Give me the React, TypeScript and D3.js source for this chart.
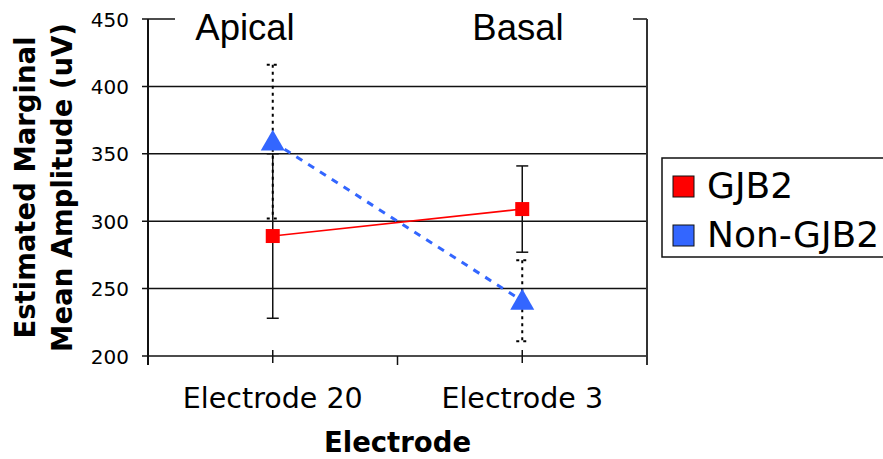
import React from "react";
import * as d3 from "d3";

const categories = ["Electrode 20", "Electrode 3"];
const regionLabels = ["Apical", "Basal"];
const seriesNames = ["GJB2", "Non-GJB2"];
const gjb2Means = [289, 309];
const gjb2Errors = [61, 32];
const nonGjb2Means = [359, 241];
const nonGjb2Errors = [57, 30];
const yTicks = [200, 250, 300, 350, 400, 450];

const W = 883;
const H = 459;
const plot = { left: 148, right: 647, top: 19, bottom: 356 };
const FONT = "'DejaVu Sans', Verdana, sans-serif";

export default function App() {
  const x = d3
    .scalePoint<string>()
    .domain(categories)
    .range([plot.left, plot.right])
    .padding(0.5);
  const y = d3.scaleLinear().domain([200, 450]).range([plot.bottom, plot.top]);
  const step = x.step();
  const boundaries = d3.range(categories.length + 1).map((i) => plot.left + i * step);

  const line = d3
    .line<number>()
    .x((_, i) => x(categories[i]) as number)
    .y((d) => y(d));

  const tri = d3.symbol(d3.symbolTriangle, 250)();
  const capW = 6;

  return (
    <svg
      width={W}
      height={H}
      style={{ position: "absolute", left: 0, top: 0 }}
      fontFamily={FONT}
    >
      <rect width={W} height={H} fill="#fff" />

      {/* horizontal gridlines */}
      {yTicks.map((t) => (
        <line
          key={t}
          x1={plot.left - 6}
          x2={plot.right}
          y1={y(t)}
          y2={y(t)}
          stroke="#111"
          strokeWidth={1.5}
        />
      ))}

      {/* white text box over the top gridline */}
      <rect x={175} y={4} width={458} height={42} fill="#fff" />
      {regionLabels.map((r, i) => (
        <text
          key={r}
          x={[245, 518][i]}
          y={40}
          textAnchor="middle"
          fontFamily="'Liberation Sans', Arial, sans-serif"
          fontSize={36.5}
          fill="#000"
        >
          {r}
        </text>
      ))}

      {/* axes frame */}
      <line x1={plot.left} x2={plot.left} y1={plot.top} y2={plot.bottom + 9} stroke="#111" strokeWidth={2} />
      <line x1={plot.right} x2={plot.right} y1={plot.top} y2={plot.bottom + 9} stroke="#333" strokeWidth={2} />
      {boundaries.slice(1, -1).map((b) => (
        <line key={b} x1={b} x2={b} y1={plot.bottom} y2={plot.bottom + 9} stroke="#111" strokeWidth={1.5} />
      ))}
      {categories.map((c) => (
        <line
          key={c}
          x1={x(c)}
          x2={x(c)}
          y1={plot.bottom - 6}
          y2={plot.bottom + 7}
          stroke="#111"
          strokeWidth={1.5}
        />
      ))}

      {/* y tick labels */}
      {yTicks.map((t) => (
        <text key={t} x={129} y={y(t) + 7.5} textAnchor="end" fontSize={20} fill="#000">
          {t}
        </text>
      ))}

      {/* category labels */}
      {categories.map((c) => (
        <text key={c} x={x(c)} y={408} textAnchor="middle" fontSize={28.5} fill="#000">
          {c}
        </text>
      ))}
      <text x={(plot.left + plot.right) / 2} y={452} textAnchor="middle" fontSize={27.5} fontWeight="bold">
        Electrode
      </text>
      <text
        transform={`translate(35,${(plot.top + plot.bottom) / 2}) rotate(-90)`}
        textAnchor="middle"
        fontSize={27.5}
        fontWeight="bold"
      >
        Estimated Marginal
      </text>
      <text
        transform={`translate(72,${(plot.top + plot.bottom) / 2}) rotate(-90)`}
        textAnchor="middle"
        fontSize={27.5}
        fontWeight="bold"
      >
        Mean Amplitude (uV)
      </text>

      {/* series lines */}
      <path d={line(gjb2Means) || ""} fill="none" stroke="#ff0000" strokeWidth={1.6} />
      <path
        d={line(nonGjb2Means) || ""}
        fill="none"
        stroke="#3366ff"
        strokeWidth={3}
        strokeDasharray="7,7"
      />

      {/* error bars */}
      {gjb2Means.map((m, i) => {
        const cx = x(categories[i]) as number;
        const lo = y(m - gjb2Errors[i]);
        const hi = y(m + gjb2Errors[i]);
        return (
          <g key={"ge" + i} stroke="#111" strokeWidth={1.5}>
            <line x1={cx} x2={cx} y1={lo} y2={hi} />
            <line x1={cx - capW} x2={cx + capW} y1={lo} y2={lo} />
            <line x1={cx - capW} x2={cx + capW} y1={hi} y2={hi} />
          </g>
        );
      })}
      {nonGjb2Means.map((m, i) => {
        const cx = x(categories[i]) as number;
        const lo = y(m - nonGjb2Errors[i]);
        const hi = y(m + nonGjb2Errors[i]);
        return (
          <g key={"ne" + i} stroke="#000" strokeWidth={2} strokeDasharray="3,4">
            <line x1={cx} x2={cx} y1={hi} y2={lo} />
            <line x1={cx - capW} x2={cx + capW} y1={lo} y2={lo} />
            <line x1={cx - capW} x2={cx + capW} y1={hi} y2={hi} />
          </g>
        );
      })}

      {/* markers */}
      {gjb2Means.map((m, i) => (
        <rect
          key={"gm" + i}
          x={(x(categories[i]) as number) - 7}
          y={y(m) - 7}
          width={14}
          height={14}
          fill="#ff0000"
        />
      ))}
      {nonGjb2Means.map((m, i) => (
        <path
          key={"nm" + i}
          d={tri || ""}
          transform={`translate(${x(categories[i])},${y(m) + 2})`}
          fill="#3366ff"
        />
      ))}

      {/* legend */}
      <rect x={662} y={158} width={240} height={99} fill="#fff" stroke="#111" strokeWidth={1.5} />
      {seriesNames.map((s, i) => (
        <g key={s}>
          <rect
            x={673}
            y={176 + i * 49}
            width={21}
            height={21}
            fill={i === 0 ? "#ff0000" : "#3366ff"}
            stroke="#111"
            strokeWidth={1}
          />
          <text x={707} y={198 + i * 49} fontSize={36} fill="#000">
            {s}
          </text>
        </g>
      ))}
    </svg>
  );
}
